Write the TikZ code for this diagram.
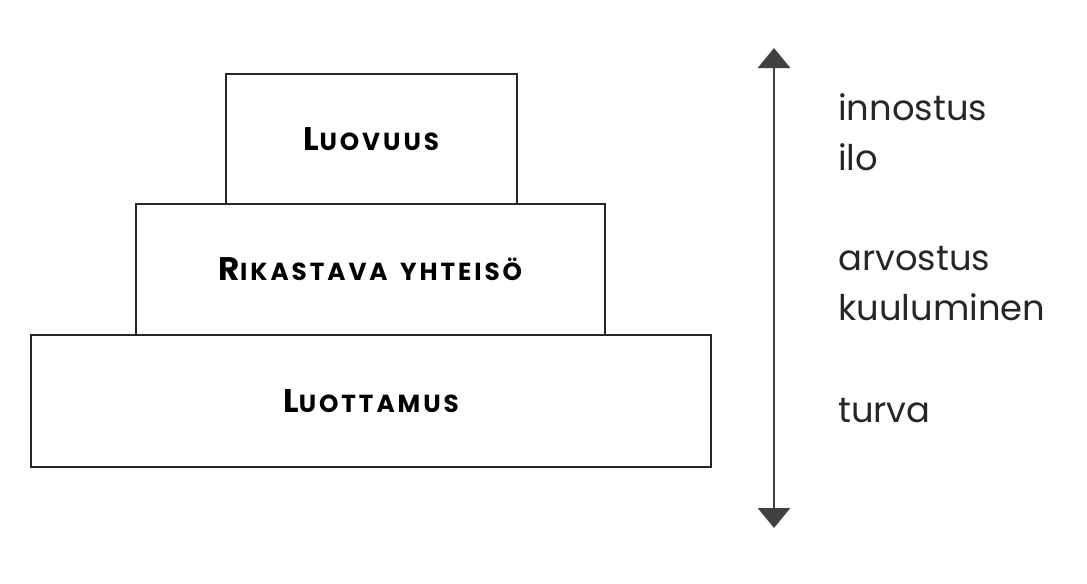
\documentclass[tikz,border=0pt]{standalone}
\usepackage{fontspec}
\setmainfont{Poppins}
\newfontfamily\boxfont[LetterSpace=12]{Poppins Bold}
\newfontfamily\sidefont{Poppins}
\usetikzlibrary{arrows.meta}
\newcommand{\fakesc}[2]{{\fontsize{24.5pt}{26pt}\selectfont #1}{\fontsize{18.5pt}{20pt}\selectfont #2}}
\begin{document}
\begin{tikzpicture}[x=0.75pt,y=-0.75pt,
  level/.style={draw=black!85, line width=1.6pt, inner sep=0pt, font=\boxfont},
  sidelabel/.style={anchor=base west, inner sep=0pt, font=\sidefont\fontsize{26.5pt}{30pt}\selectfont, text=black!85},
  scale arrow/.style={line width=2.2pt, draw=black!75, {Triangle[width=24pt,length=15pt]}-{Triangle[width=24pt,length=15pt]}}]
\useasboundingbox (0,0) rectangle (1087,583);
\node[level, minimum width=291*0.75pt, minimum height=130*0.75pt] (luovuus) at (371.5,139) {\fakesc{L}{UOVUUS}};
\node[level, minimum width=469*0.75pt, minimum height=131*0.75pt] (rikastava) at (370.5,269.5) {\fakesc{R}{IKASTAVA\hspace{0.5em}YHTEISÖ}};
\node[level, minimum width=680*0.75pt, minimum height=132*0.75pt] (luottamus) at (371,401) {\fakesc{L}{UOTTAMUS}};
\coordinate (top) at (774,48);
\coordinate (bottom) at (774,528);
\draw[scale arrow] (bottom) -- (top);
\node[sidelabel] (innostus) at (838,120) {innostus};
\node[sidelabel] (ilo) at (838,170) {ilo};
\node[sidelabel] (arvostus) at (838,270) {arvostus};
\node[sidelabel] (kuuluminen) at (838,320) {kuuluminen};
\node[sidelabel] (turva) at (838,422) {turva};
\end{tikzpicture}
\end{document}
